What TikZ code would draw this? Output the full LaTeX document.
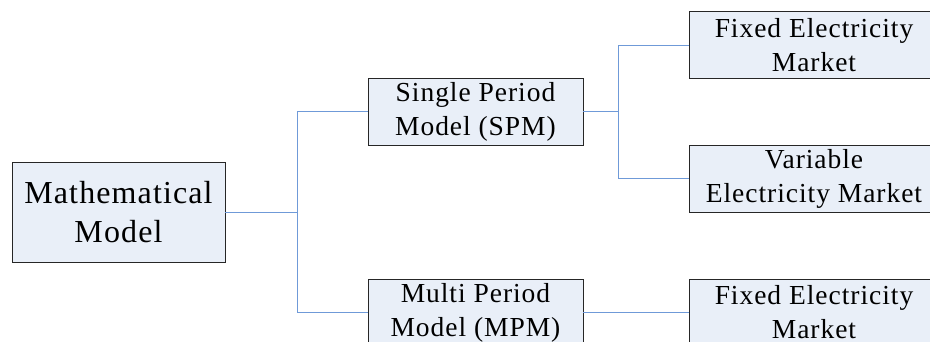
\documentclass[tikz,border=0pt]{standalone}
\usepackage{fontspec}
\setmainfont[LetterSpace=3.5]{Liberation Serif}
\usetikzlibrary{positioning}
\definecolor{boxfill}{HTML}{E9EFF8}
\definecolor{linkblue}{HTML}{6F9AD8}
\tikzset{
    root/.style ={
        shape=rectangle,
        draw=black!85,
        fill=boxfill,
        line width=0.9pt,
        align=center,
        minimum width=213pt,
        minimum height=100pt,
        font=\fontsize{32}{39}\selectfont
    },
    model/.style ={
        shape=rectangle,
        draw=black!85,
        fill=boxfill,
        line width=0.9pt,
        align=center,
        minimum width=215pt,
        minimum height=67pt,
        font=\fontsize{27.5}{34}\selectfont
    },
    market/.style ={
        model,
        minimum width=250pt
    },
    link/.style ={
        draw=linkblue,
        line width=1pt
    }
}

\begin{document}
\begin{tikzpicture}[x=1pt,y=-1pt]
    \useasboundingbox (0,0) rectangle (930,341);
    \clip (0,0) rectangle (930,341);
    \node[root] (MM) at(118.5,212) {Mathematical\\Model};
    \node[model] (SPM) at(475.5,111.5) {Single Period\\Model (SPM)};
    \node[model] (MPM) at(475.5,312.5) {Multi Period\\Model (MPM)};
    \node[market] (FEM1) at(814,45) {Fixed Electricity\\Market};
    \node[market] (VEM) at(814,178.5) {Variable\\Electricity Market};
    \node[market] (FEM2) at(814,312.5) {Fixed Electricity\\Market};
    \coordinate (s1) at(297,212);
    \coordinate (s2) at(618,111.5);
    \draw[link] (MM) -- (s1) |- (SPM);
    \draw[link] (s1) |- (MPM);
    \draw[link] (SPM) -- (s2) |- (FEM1);
    \draw[link] (s2) |- (VEM);
    \draw[link] (MPM) -- (FEM2);
\end{tikzpicture}
\end{document}
